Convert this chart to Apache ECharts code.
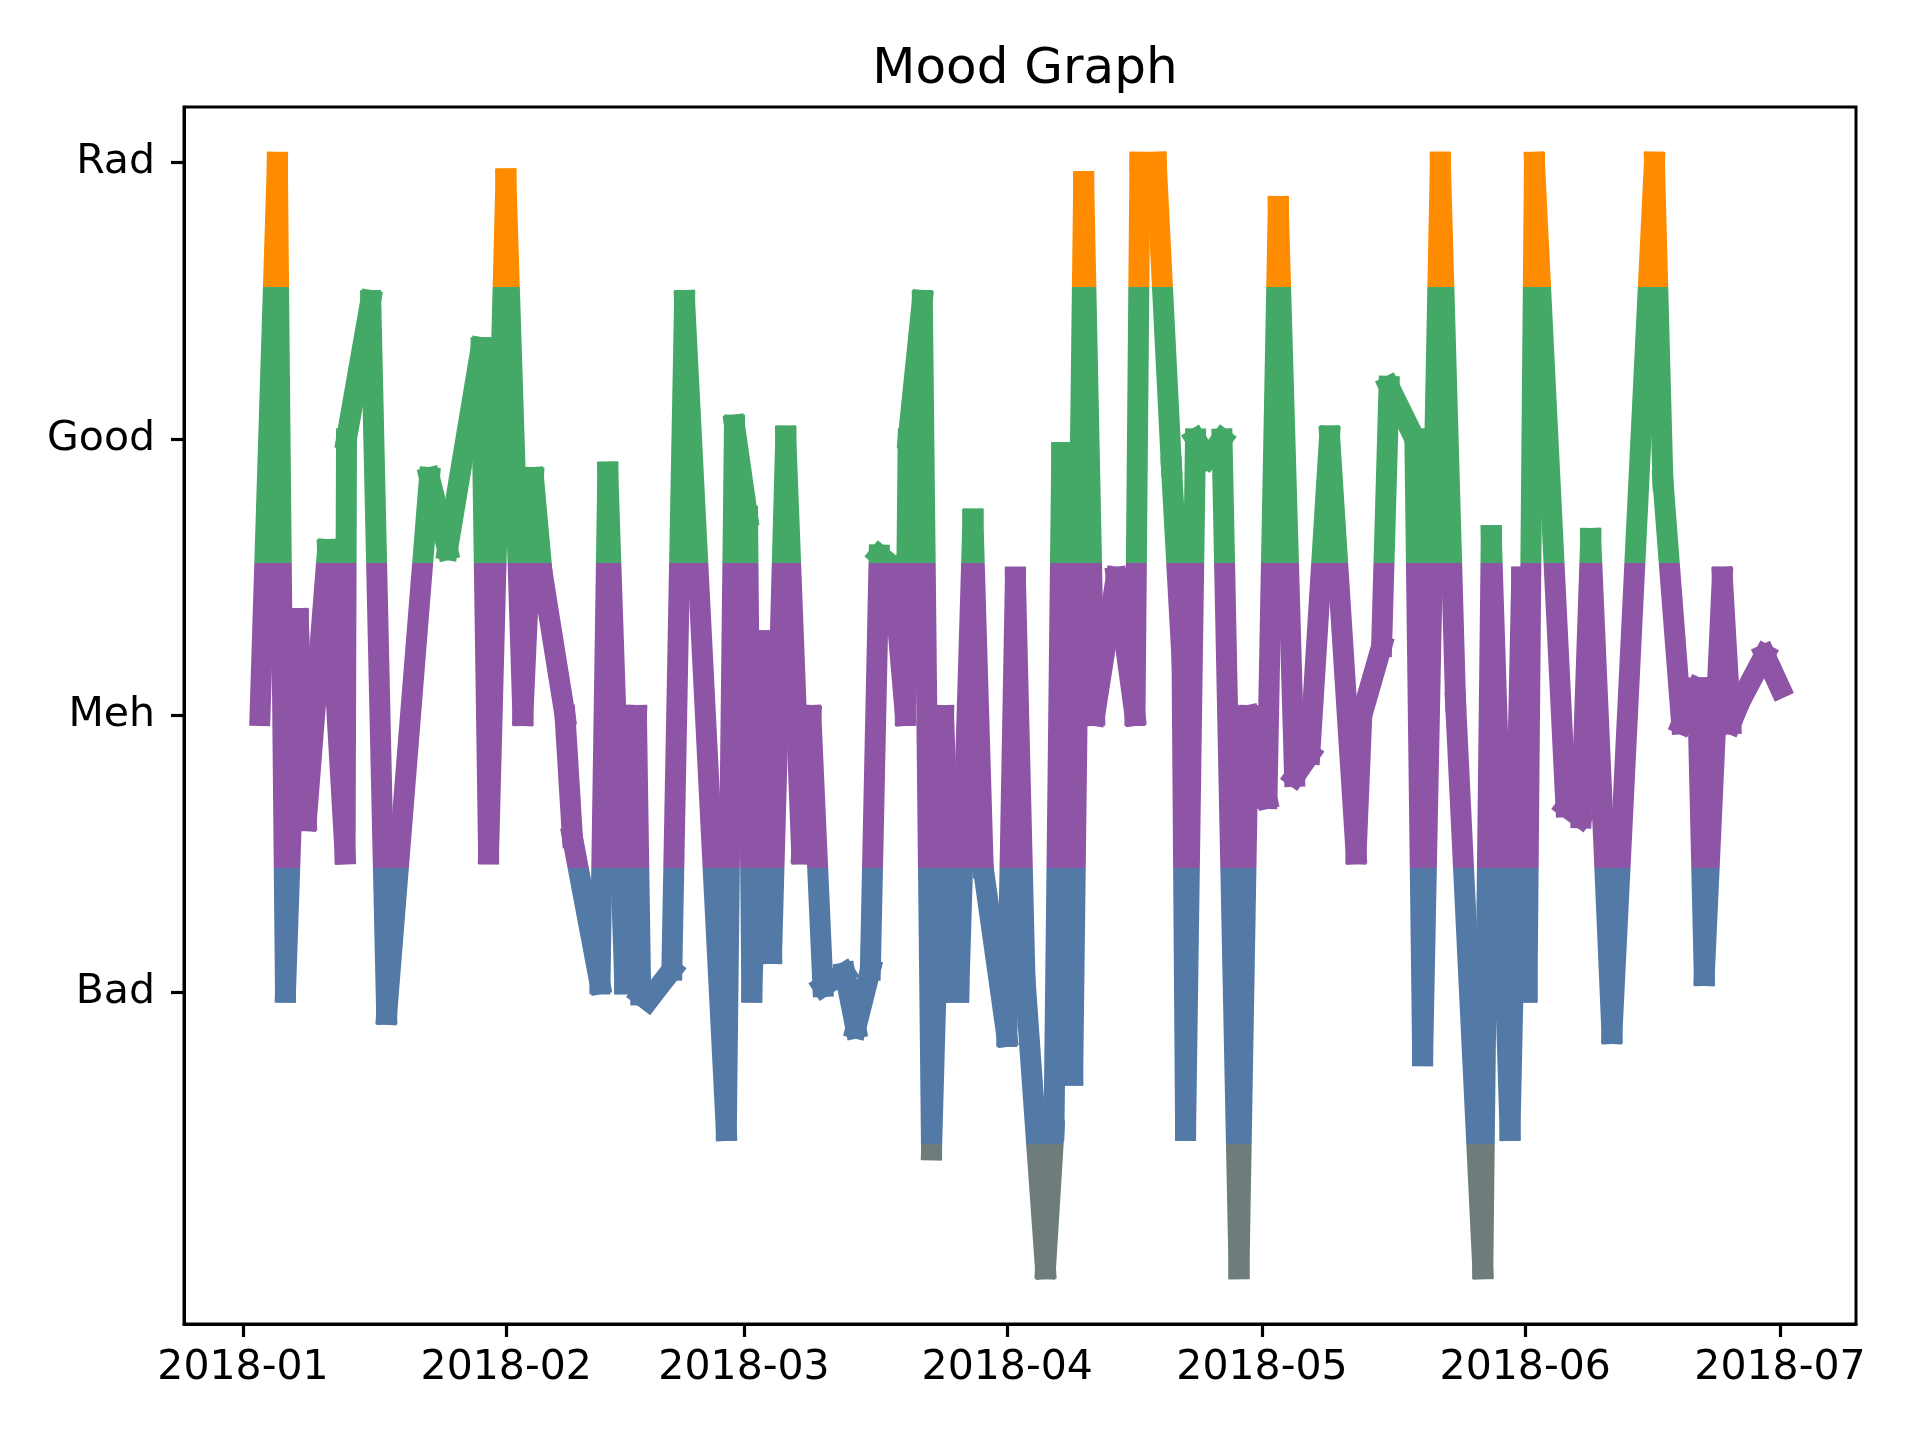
<!DOCTYPE html>
<html>
<head>
<meta charset="utf-8">
<script src="https://cdn.jsdelivr.net/npm/echarts@6/dist/echarts.min.js"></script>
<style>
html,body{margin:0;padding:0;background:#ffffff;}
#chart{width:1920px;height:1440px;}
</style>
</head>
<body>
<div id="chart"></div>
<script>
// ---- data ----
const moodTimes = [
  '2018-01-03 00:00','2018-01-05 01:00','2018-01-06 00:00','2018-01-07 12:00','2018-01-08 11:00',
  '2018-01-10 23:00','2018-01-13 00:30','2018-01-13 04:30','2018-01-16 01:00','2018-01-17 22:00',
  '2018-01-22 23:00','2018-01-25 02:00','2018-01-29 01:00','2018-01-29 22:00','2018-01-31 23:00',
  '2018-02-02 23:00','2018-02-04 05:00','2018-02-05 05:00','2018-02-07 22:00','2018-02-08 19:00',
  '2018-02-12 01:00','2018-02-12 23:00','2018-02-14 23:00','2018-02-16 08:00','2018-02-16 20:00',
  '2018-02-17 17:00','2018-02-20 12:00','2018-02-22 00:00','2018-02-26 22:00','2018-02-27 21:00',
  '2018-03-01 10:00','2018-03-01 22:00','2018-03-03 06:00','2018-03-04 06:00','2018-03-05 22:00',
  '2018-03-07 19:00','2018-03-08 21:00','2018-03-10 07:00','2018-03-12 21:00','2018-03-14 04:00',
  '2018-03-15 21:00','2018-03-16 22:00','2018-03-18 12:00','2018-03-20 00:00','2018-03-20 08:00',
  '2018-03-22 00:00','2018-03-23 02:00','2018-03-24 12:00','2018-03-25 16:00','2018-03-26 07:00',
  '2018-03-27 23:00','2018-03-29 04:00','2018-03-31 23:00','2018-04-01 23:00','2018-04-03 02:00',
  '2018-04-05 12:00','2018-04-06 12:00','2018-04-07 10:00','2018-04-08 17:00','2018-04-10 00:00',
  '2018-04-11 07:00','2018-04-13 20:00','2018-04-16 01:00','2018-04-16 15:00','2018-04-18 13:00',
  '2018-04-20 08:00','2018-04-21 14:00','2018-04-22 00:00','2018-04-23 04:00','2018-04-24 14:00',
  '2018-04-26 07:00','2018-04-28 07:00','2018-04-29 10:00','2018-05-01 14:00','2018-05-02 22:00',
  '2018-05-04 20:00','2018-05-06 15:00','2018-05-08 23:00','2018-05-12 02:00','2018-05-12 18:00',
  '2018-05-15 02:00','2018-05-15 23:00','2018-05-19 00:00','2018-05-19 22:00','2018-05-22 00:00',
  '2018-05-23 19:00','2018-05-27 00:00','2018-05-28 00:00','2018-05-30 05:00','2018-05-31 14:00',
  '2018-06-01 05:00','2018-06-02 02:00','2018-06-05 19:00','2018-06-07 14:00','2018-06-08 17:00',
  '2018-06-11 05:00','2018-06-16 05:00','2018-06-17 05:00','2018-06-19 10:00','2018-06-21 07:00',
  '2018-06-22 02:00','2018-06-24 05:00','2018-06-25 05:00','2018-06-26 07:00','2018-06-29 05:00',
  '2018-07-01 00:00'
];
const moodValues = [
  3.0, 5.0, 2.0, 3.35, 2.62,
  3.6, 2.5, 4.0, 4.5, 1.92,
  3.86, 3.6, 4.33, 2.5, 4.94,
  3.0, 3.86, 3.52, 3.0, 2.56,
  2.03, 3.88, 2.03, 3.0, 1.99,
  1.97, 2.08, 4.5, 1.5, 4.05,
  3.72, 2.0, 3.27, 2.14, 4.01,
  2.5, 3.0, 2.02, 2.07, 1.87,
  2.08, 3.58, 3.54, 3.0, 4.0,
  4.5, 1.43, 3.0, 2.0, 2.0,
  3.71, 2.45, 1.84, 3.5, 2.05,
  1.0, 1.5, 3.95, 1.7, 4.93,
  3.0, 3.5, 3.0, 5.0, 5.0,
  3.9, 3.2, 1.5, 4.0, 3.93,
  4.0, 1.0, 3.0, 2.7, 4.84,
  2.78, 2.86, 4.01, 2.5, 3.0,
  3.25, 4.19, 4.0, 1.77, 5.0,
  3.05, 1.0, 3.65, 1.5, 3.5,
  2.0, 5.0, 2.67, 2.63, 3.64,
  1.85, 5.0, 3.85, 2.97, 3.1,
  2.06, 3.5, 2.97, 3.05, 3.22,
  3.1
];
const yTickValues = [2, 3, 4, 5];
const yTickLabels = ['Bad', 'Meh', 'Good', 'Rad'];
const xTickDates = ['2018-01-01','2018-02-01','2018-03-01','2018-04-01','2018-05-01','2018-06-01','2018-07-01'];
const xTickLabels = ['2018-01','2018-02','2018-03','2018-04','2018-05','2018-06','2018-07'];
const moodBandLimits = [1.45, 2.45, 3.55, 4.55];
const moodBandColors = ['#6e7c7c', '#537aa6', '#8e55a6', '#44a866', '#ff8c00'];

// ---- helpers ----
function toUTC(s) {
  const parts = s.split(' ');
  const d = parts[0].split('-').map(Number);
  const t = (parts[1] || '00:00').split(':').map(Number);
  return Date.UTC(d[0], d[1] - 1, d[2], t[0], t[1]);
}
const points = moodTimes.map((t, i) => [toUTC(t), moodValues[i]]);
const xTickValues = xTickDates.map(toUTC);
const firstT = points[0][0], lastT = points[points.length - 1][0];
const span = lastT - firstT;
const xMin = firstT - span * 0.05;
const xMax = lastT + span * 0.05;

const pieces = [
  {lt: moodBandLimits[0], color: moodBandColors[0]},
  {gte: moodBandLimits[0], lt: moodBandLimits[1], color: moodBandColors[1]},
  {gte: moodBandLimits[1], lt: moodBandLimits[2], color: moodBandColors[2]},
  {gte: moodBandLimits[2], lt: moodBandLimits[3], color: moodBandColors[3]},
  {gte: moodBandLimits[3], color: moodBandColors[4]}
];

// one line series per consecutive pair of points (segments drawn separately, square caps)
const segmentSeries = [];
for (let i = 0; i < points.length - 1; i++) {
  segmentSeries.push({
    type: 'line',
    data: [points[i], points[i + 1]],
    showSymbol: false,
    symbol: 'none',
    clip: true,
    lineStyle: {width: 21, cap: 'square', join: 'bevel'},
    emphasis: {disabled: true},
    silent: true
  });
}

const FONT = 'DejaVu Sans';
const chart = echarts.init(document.getElementById('chart'), null, {renderer: 'canvas'});
chart.setOption({
  animation: false,
  backgroundColor: '#ffffff',
  title: {
    text: 'Mood Graph',
    left: 1020,
    top: 40,
    textAlign: 'center',
    textStyle: {fontFamily: FONT, fontSize: 50, fontWeight: 'normal', color: '#000000'}
  },
  grid: {
    left: 184, right: 64, top: 107, bottom: 116,
    show: true, borderColor: '#000000', borderWidth: 3, backgroundColor: 'transparent'
  },
  visualMap: {
    type: 'piecewise', show: false, dimension: 1, pieces: pieces
  },
  xAxis: {
    type: 'value',
    min: xMin,
    max: xMax,
    axisLine: {show: true, onZero: false, lineStyle: {color: '#000000', width: 3}},
    axisTick: {show: true, length: 13, lineStyle: {color: '#000000', width: 3.2}, customValues: xTickValues},
    axisLabel: {
      show: true, margin: 24, fontFamily: FONT, fontSize: 41, color: '#000000',
      customValues: xTickValues,
      formatter: function (val) {
        const idx = xTickValues.indexOf(val);
        return idx >= 0 ? xTickLabels[idx] : '';
      }
    },
    splitLine: {show: false}
  },
  yAxis: {
    type: 'value',
    min: 0.8,
    max: 5.2,
    axisLine: {show: true, onZero: false, lineStyle: {color: '#000000', width: 3}},
    axisTick: {show: true, length: 13, lineStyle: {color: '#000000', width: 3.2}, customValues: yTickValues},
    axisLabel: {
      show: true, margin: 29, fontFamily: FONT, fontSize: 41, color: '#000000',
      customValues: yTickValues,
      formatter: function (val) {
        const idx = yTickValues.indexOf(val);
        return idx >= 0 ? yTickLabels[idx] : '';
      }
    },
    splitLine: {show: false}
  },
  series: segmentSeries
});
</script>
</body>
</html>
